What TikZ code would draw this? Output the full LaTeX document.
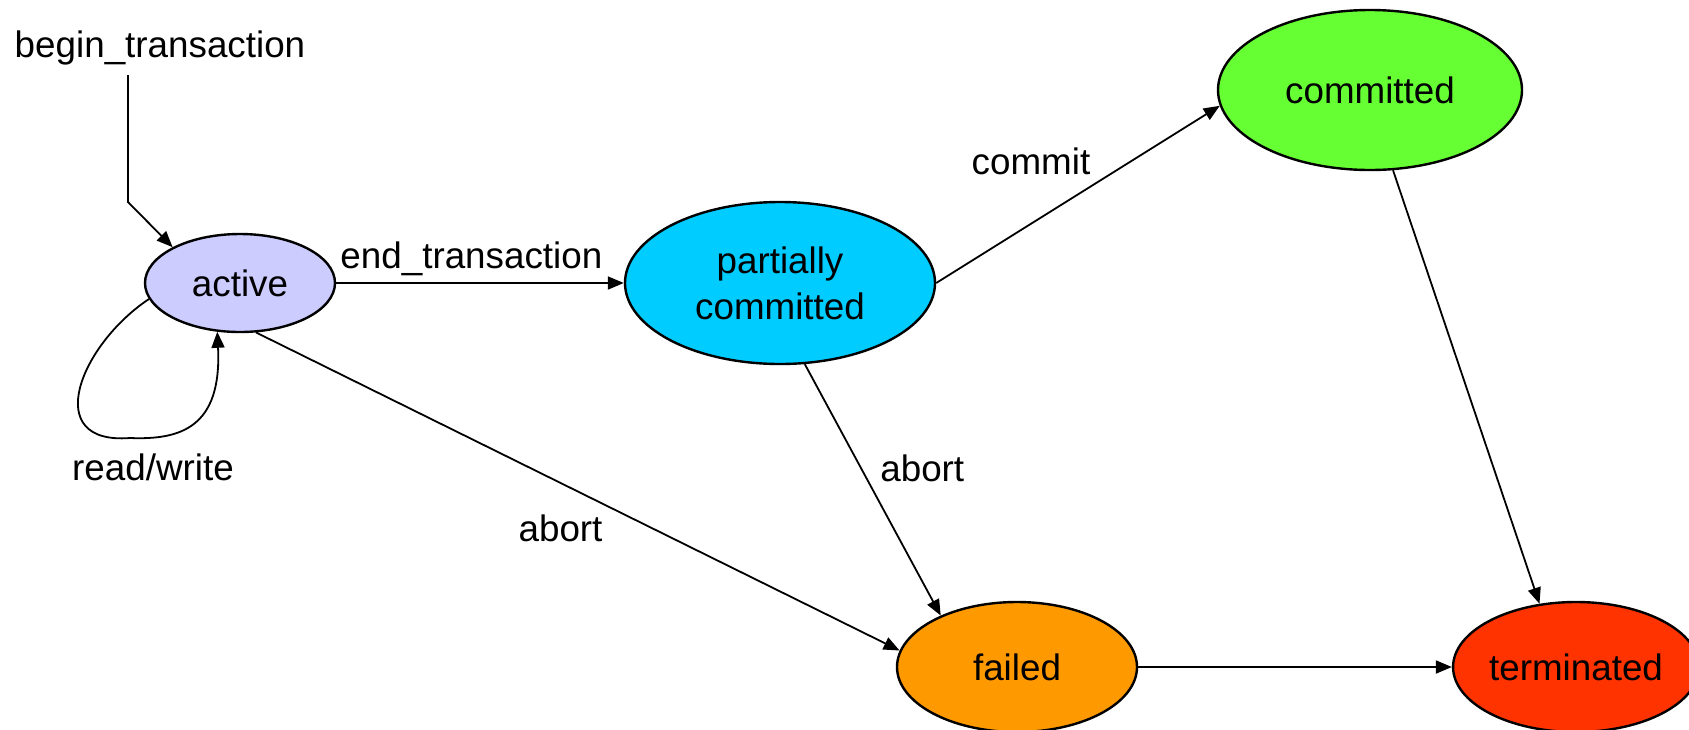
\documentclass[tikz,border=0pt]{standalone}
\usepackage{fontspec}
\setmainfont{Liberation Sans}
\usetikzlibrary{arrows.meta,shapes.geometric,positioning}
\definecolor{actfill}{HTML}{CCCCFF}
\definecolor{pcfill}{HTML}{00CCFF}
\definecolor{comfill}{HTML}{66FF33}
\definecolor{failfill}{HTML}{FF9900}
\definecolor{termfill}{HTML}{FF3300}
\tikzset{x=0.5pt, y=-0.5pt, % one unit is one pixel of the reference, y downwards
        >={Triangle[length=8pt,width=6.5pt]},
        phase/.style={ % Sets the properties for each transaction state
            ellipse,
            draw,
            line width=1.2pt,
            inner sep=0pt,
            align=center},
        every edge/.style={ % Sets the properties for each transition
            draw,
            ->,
            auto,
            line width=0.9pt}
        }

\begin{document}
\begin{tikzpicture}[font=\fontsize{18.4}{23}\selectfont]
    \useasboundingbox (0,0) rectangle (1689,729);
    \clip (0,0) rectangle (1689,729);

    \node[phase, fill=actfill, minimum width=95pt, minimum height=49pt] (act) at (240,283) {active};
    \node[phase, fill=pcfill, minimum width=155pt, minimum height=81pt] (pc) at (780,283) {partially\\committed};
    \node[phase, fill=comfill, minimum width=152pt, minimum height=80pt] (com) at (1370,90) {committed};
    \node[phase, fill=failfill, minimum width=120pt, minimum height=65pt] (fail) at (1017,667) {failed};
    \node[phase, fill=termfill, minimum width=119pt, minimum height=65pt] (term) at (1576,667) {terminated};

    \node[anchor=base] (begin) at (160,57) {begin\_transaction};
    \node[anchor=base] (rw) at (153,480) {read/write};
    \coordinate (top) at (128,75);
    \coordinate (bend) at (128,202);

    \draw[->, line width=0.9pt] (top) -- (bend) -- (act.152);
    \draw[->, line width=0.9pt] (act.190) .. controls (80,345) and (40,445) .. (130,438)
        .. controls (180,440) and (222,428) .. (act.245);

    \draw
        (act.east)
            edge node[pos=0.47] {end\_transaction} (pc.west)
        (act.288)
            edge [swap] node[pos=0.55] {abort} (fail.172)
        (pc.east)
            edge node[pos=0.57] {commit} (com.186)
        (pc.287)
            edge node[pos=0.5] {abort} (fail.146)
        (com.286)
            edge (term.120)
        (fail)
            edge (term);
\end{tikzpicture}
\end{document}
